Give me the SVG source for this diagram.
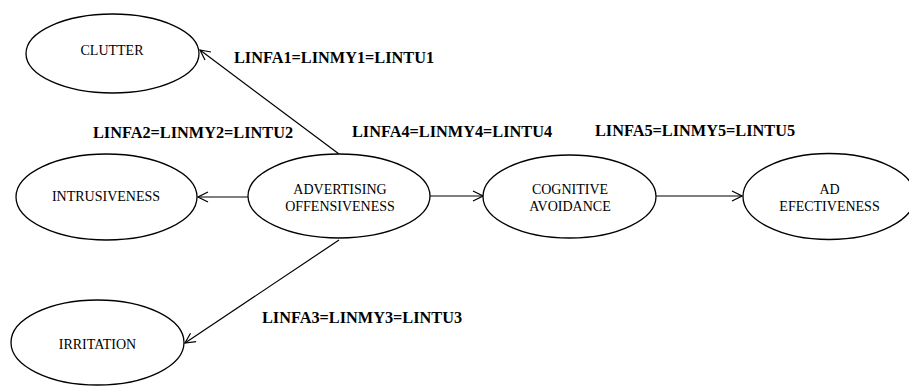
<svg xmlns="http://www.w3.org/2000/svg" width="909" height="390" viewBox="0 0 909 390">
  <style>
    .node ellipse { fill: #ffffff; stroke: #000000; stroke-width: 1.3; }
    .node text { font-size: 14px; text-anchor: middle; fill: #000000; }
    .edge { stroke: #000000; stroke-width: 1.2; fill: none; marker-end: url(#arrow); }
    .label { font-size: 16.3px; font-weight: bold; fill: #000000; }
  </style>
  <defs>
    <marker id="arrow" viewBox="0 0 12 12" refX="11" refY="6" markerWidth="12" markerHeight="12" markerUnits="userSpaceOnUse" orient="auto">
      <path d="M1,1 L11,6 L1,11" fill="none" stroke="#000000" stroke-width="1.2"/>
    </marker>
  </defs>
  <rect width="909" height="390" fill="#ffffff"/>

  <g id="connectors">
    <line class="edge" x1="339" y1="154" x2="200" y2="50"/>
    <line class="edge" x1="248" y1="197" x2="198" y2="197"/>
    <line class="edge" x1="339" y1="240" x2="185" y2="343"/>
    <line class="edge" x1="430" y1="196" x2="483" y2="196"/>
    <line class="edge" x1="656" y1="196" x2="742" y2="196"/>
  </g>

  <g font-family="Liberation Serif, Times New Roman, DejaVu Serif, serif">
    <g id="clutter" class="node">
      <ellipse cx="112.5" cy="53.5" rx="86.5" ry="39.5"/>
      <text x="112" y="55">CLUTTER</text>
    </g>
    <g id="intrusiveness" class="node">
      <ellipse cx="106.5" cy="197" rx="90.5" ry="43"/>
      <text x="106" y="201">INTRUSIVENESS</text>
    </g>
    <g id="irritation" class="node">
      <ellipse cx="97.5" cy="342.5" rx="86.5" ry="42.5"/>
      <text x="97.5" y="349">IRRITATION</text>
    </g>
    <g id="advertising-offensiveness" class="node">
      <ellipse cx="339" cy="196" rx="91" ry="42"/>
      <text x="340" y="194">ADVERTISING</text>
      <text x="340" y="211">OFFENSIVENESS</text>
    </g>
    <g id="cognitive-avoidance" class="node">
      <ellipse cx="569.5" cy="196.5" rx="86.5" ry="41.5"/>
      <text x="570" y="194">COGNITIVE</text>
      <text x="570" y="211">AVOIDANCE</text>
    </g>
    <g id="ad-effectiveness" class="node">
      <ellipse cx="829" cy="196.5" rx="86" ry="43"/>
      <text x="829.5" y="194">AD</text>
      <text x="829.5" y="211">EFECTIVENESS</text>
    </g>

    <g id="labels">
      <text class="label" x="234" y="63">LINFA1=LINMY1=LINTU1</text>
      <text class="label" x="93" y="138">LINFA2=LINMY2=LINTU2</text>
      <text class="label" x="352" y="137">LINFA4=LINMY4=LINTU4</text>
      <text class="label" x="595" y="136">LINFA5=LINMY5=LINTU5</text>
      <text class="label" x="262" y="323">LINFA3=LINMY3=LINTU3</text>
    </g>
  </g>
</svg>
